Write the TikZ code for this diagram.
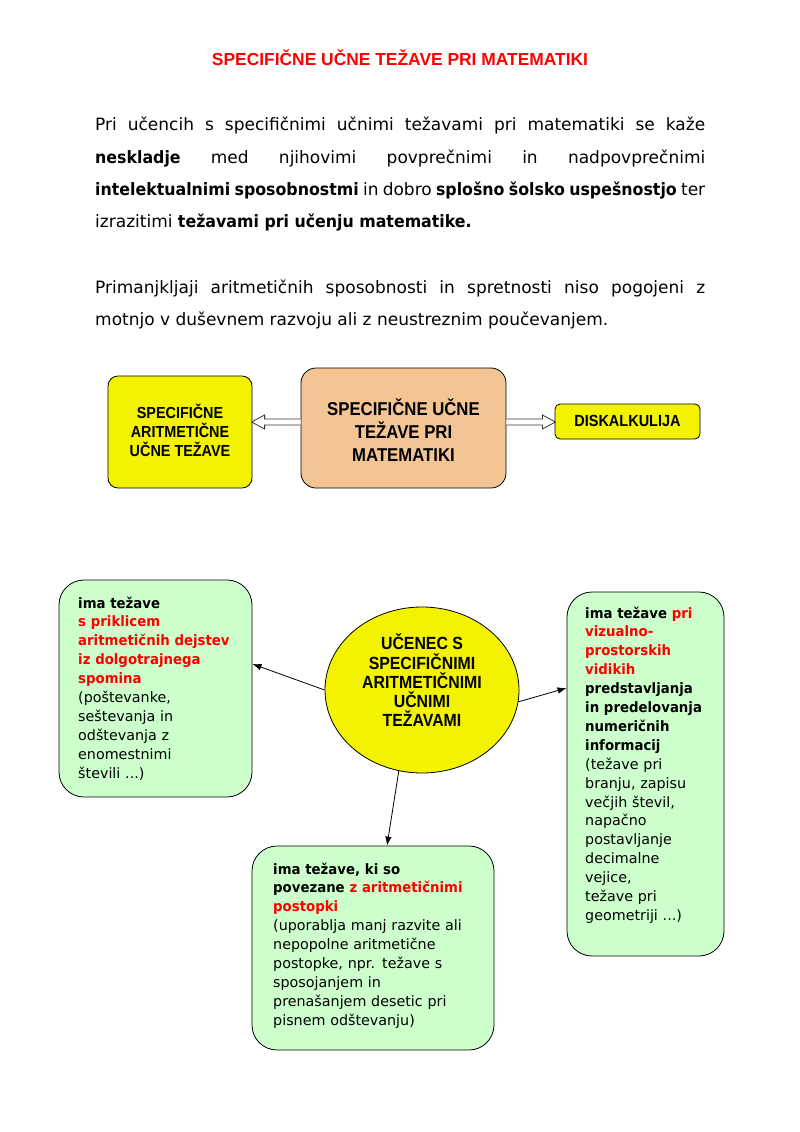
\documentclass[tikz,border=0pt]{standalone}
\usepackage{fontspec}
\setmainfont{DejaVu Sans}[BoldFeatures={FakeStretch=0.93}]
\newfontfamily\capf{Liberation Sans}[FakeStretch=0.9]
\newfontfamily\titf{Liberation Sans}
\usetikzlibrary{shapes.geometric,arrows.meta}
\definecolor{ybox}{RGB}{243,243,0}
\definecolor{pbox}{RGB}{243,197,148}
\definecolor{gbox}{RGB}{204,255,204}
\definecolor{rtxt}{RGB}{255,0,0}
\newcommand{\rb}[1]{\textcolor{rtxt}{\textbf{#1}}}
\tikzset{
  bodyline/.style={anchor=base west, inner sep=0pt, font=\fontsize{17}{20}\selectfont},
  capbox/.style={draw, line width=0.8pt, inner sep=0pt},
  captext/.style={align=center, inner sep=0pt},
  gbx/.style={draw, line width=0.8pt, fill=gbox, rounded corners=25pt, inner sep=0pt},
  gtext/.style={anchor=base west, inner sep=0pt, align=left, font=\fontsize{14.3}{18.9}\selectfont},
  hollowarr/.style={draw=black!80, fill=white, line width=0.8pt, line join=miter},
  conn/.style={draw, line width=0.8pt, -{Latex[length=9pt,width=6.5pt]}}
}
\begin{document}
\begin{tikzpicture}[x=1pt,y=-1pt]
\useasboundingbox (0,0) rectangle (800,1132);
\fill[white] (0,0) rectangle (800,1132);

% title
\node[anchor=base, inner sep=0pt, text=rtxt, font=\titf\bfseries\fontsize{17.4}{20}\selectfont] (title) at (400,65.5) {SPECIFIČNE UČNE TEŽAVE PRI MATEMATIKI};

% paragraphs
\node[bodyline] (p1) at (95,130) {\makebox[610pt][s]{Pri učencih s specifičnimi učnimi težavami pri matematiki se kaže}};
\node[bodyline] (p2) at (95,163) {\makebox[610pt][s]{\textbf{neskladje} med njihovimi povprečnimi in nadpovprečnimi}};
\node[bodyline] (p3) at (95,195) {\makebox[610pt][s]{\textbf{intelektualnimi sposobnostmi} in dobro \textbf{splošno šolsko uspešnostjo} ter}};
\node[bodyline] (p4) at (95,227) {izrazitimi \textbf{težavami pri učenju matematike.}};
\node[bodyline] (p5) at (95,293) {\makebox[610pt][s]{Primanjkljaji aritmetičnih sposobnosti in spretnosti niso pogojeni z}};
\node[bodyline] (p6) at (95,325) {motnjo v duševnem razvoju ali z neustreznim poučevanjem.};

% middle boxes
\node[capbox, fill=ybox, rounded corners=10pt, minimum width=144pt, minimum height=112pt] (lbox) at (180,432) {};
\node[captext, font=\capf\bfseries\fontsize{16}{19}\selectfont] (lboxt) at (180,430)
      {SPECIFIČNE\\ARITMETIČNE\\UČNE TEŽAVE};
\node[capbox, fill=pbox, rounded corners=15pt, minimum width=205pt, minimum height=120pt] (ctr) at (403.5,428) {};
\node[captext, font=\capf\bfseries\fontsize{18.6}{23}\selectfont] (ctrt) at (403.5,430)
      {SPECIFIČNE UČNE\\TEŽAVE PRI\\MATEMATIKI};
\node[capbox, fill=ybox, rounded corners=5pt, minimum width=145pt, minimum height=35pt] (rbox) at (627.5,421.5) {};
\node[captext, font=\capf\bfseries\fontsize{16.1}{19}\selectfont] (rboxt) at (627.5,420.5) {DISKALKULIJA};

\coordinate (la) at ([yshift=6pt]ctr.west);
\coordinate (ra) at ([yshift=6pt]ctr.east);
\draw[hollowarr] ([yshift=3pt]la) -- ++(-36,0) -- ++(0,-4) -- ++(-13,7) -- ++(13,7) -- ++(0,-4) -- ++(36,0);
\draw[hollowarr] ([yshift=3pt]ra) -- ++(36,0) -- ++(0,-4) -- ++(13,7) -- ++(-13,7) -- ++(0,-4) -- ++(-36,0);

% lower part
\node[ellipse, draw, line width=0.8pt, fill=ybox, minimum width=194pt, minimum height=166pt, inner sep=0pt] (uc) at (422,690) {};
\node[captext, font=\capf\bfseries\fontsize{17.6}{19.2}\selectfont] (uctext) at (422,680.5)
      {UČENEC S\\SPECIFIČNIMI\\ARITMETIČNIMI\\UČNIMI\\TEŽAVAMI};

\node[gbx, minimum width=193pt, minimum height=217pt] (lg) at (155.5,688.5) {};
\node[gbx, minimum width=157pt, minimum height=364pt] (rg) at (645.5,774) {};
\node[gbx, minimum width=242pt, minimum height=204pt] (bg) at (373,948) {};

\node[gtext, text width=170pt] (lgt) at (78,608) {%
\textbf{ima težave}\\
\rb{s priklicem}\\
\rb{aritmetičnih dejstev}\\
\rb{iz dolgotrajnega}\\
\rb{spomina}\\
(poštevanke,\\
seštevanja in\\
odštevanja z\\
enomestnimi\\
števili ...)};

\node[gtext, text width=150pt] (rgt) at (585,618) {%
\textbf{ima težave} \rb{pri}\\
\rb{vizualno-}\\
\rb{prostorskih}\\
\rb{vidikih}\\
\textbf{predstavljanja}\\
\textbf{in predelovanja}\\
\textbf{numeričnih}\\
\textbf{informacij}\\
(težave pri\\
branju, zapisu\\
večjih števil,\\
napačno\\
postavljanje\\
decimalne\\
vejice,\\
težave pri\\
geometriji ...)};

\node[gtext, text width=225pt] (bgt) at (273,874) {%
\textbf{ima težave, ki so}\\
\textbf{povezane} \rb{z aritmetičnimi}\\
\rb{postopki}\\
(uporablja manj razvite ali\\
nepopolne aritmetične\\
postopke, npr. težave s\\
sposojanjem in\\
prenašanjem desetic pri\\
pisnem odštevanju)};

% connectors
\draw[conn] (uc.west) -- ([yshift=24.5pt]lg.east);
\draw[conn] (uc.-7) -- ([yshift=86pt]rg.west);
\draw[conn] (uc.254) -- ([xshift=14pt]bg.north);
\end{tikzpicture}
\end{document}
